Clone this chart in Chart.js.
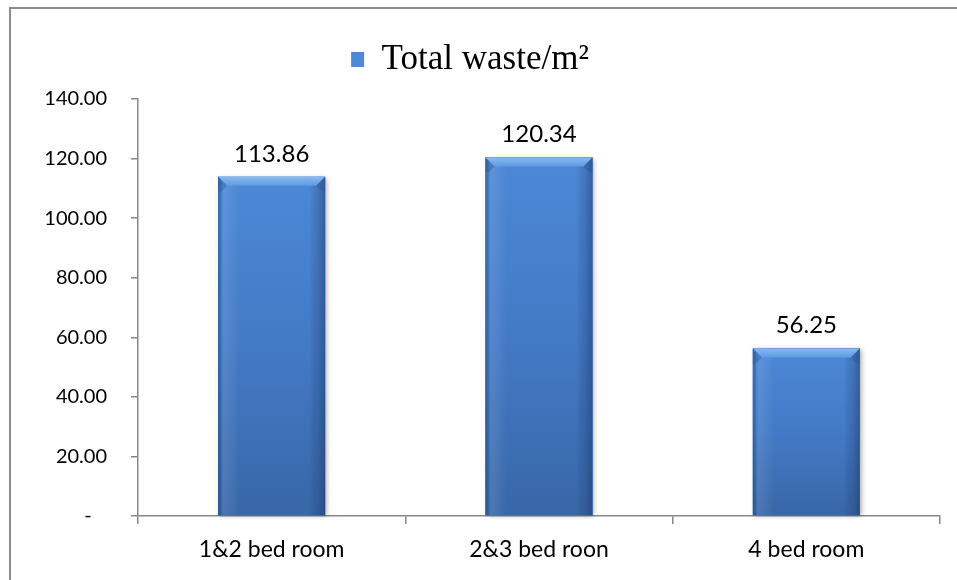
<!DOCTYPE html>
<html>
<head>
<meta charset="utf-8">
<script src="https://cdn.jsdelivr.net/npm/chart.js@4/dist/chart.umd.min.js"></script>
<style>
  html, body { margin: 0; padding: 0; background: #ffffff; }
  #wrap { position: relative; width: 957px; height: 580px; }
</style>
</head>
<body>
<div id="wrap"><canvas id="chart" width="957" height="580"></canvas></div>
<script>
// Waste per square metre by dwelling size
const categories = ['1&2 bed room', '2&3 bed roon', '4 bed room'];
const wastePerM2 = [113.86, 120.34, 56.25];
const seriesName = 'Total waste/m\u00B2';
const yTicks = [0, 20, 40, 60, 80, 100, 120, 140];

const BAR_BLUE = '#4f88d4';
const AXIS_GREY = '#878787';
const LEGEND_GAP = 12;

// Outer frame around the chart
const framePlugin = {
  id: 'frame',
  beforeDraw(chart) {
    const ctx = chart.ctx;
    ctx.save();
    ctx.strokeStyle = '#8e8e8e';
    ctx.lineWidth = 2;
    ctx.strokeRect(10, 8, chart.width + 20, chart.height + 20);
    ctx.restore();
  }
};

// Extra room between the legend and the plot area
const legendSpacer = {
  id: 'legendSpacer',
  beforeLayout(chart) {
    const lg = chart.legend;
    if (lg && !lg._spaced) {
      const fit = lg.fit;
      lg.fit = function () { fit.call(this); this.height += LEGEND_GAP; };
      lg._spaced = true;
    }
  }
};

// Bevelled, shaded bars plus value labels
const barStyle = {
  id: 'barStyle',
  beforeDatasetsDraw(chart) {
    const ctx = chart.ctx;
    const meta = chart.getDatasetMeta(0);
    ctx.save();
    meta.data.forEach(bar => {
      const w = bar.width, x0 = bar.x - w / 2;
      ctx.shadowColor = 'rgba(0,0,0,0.35)';
      ctx.shadowBlur = 5;
      ctx.shadowOffsetX = 2;
      ctx.shadowOffsetY = 1;
      ctx.fillStyle = '#3a68a8';
      ctx.fillRect(x0, bar.y, w, bar.base - bar.y);
    });
    ctx.restore();
  },
  afterDatasetsDraw(chart) {
    const ctx = chart.ctx;
    const meta = chart.getDatasetMeta(0);
    const values = chart.data.datasets[0].data;
    ctx.save();
    meta.data.forEach((bar, i) => {
      const w = bar.width;
      const x0 = bar.x - w / 2, x1 = bar.x + w / 2;
      const top = bar.y, bot = bar.base, h = bot - top;

      // body: lighter at the top, deeper toward the base
      const vg = ctx.createLinearGradient(0, top, 0, bot);
      vg.addColorStop(0, '#4c88d6');
      vg.addColorStop(0.5, '#437ac6');
      vg.addColorStop(1, '#3867a8');
      ctx.fillStyle = vg;
      ctx.fillRect(x0, top, w, h);

      // side shading
      const hg = ctx.createLinearGradient(x0, 0, x1, 0);
      hg.addColorStop(0, 'rgba(25,55,110,0.45)');
      hg.addColorStop(0.025, 'rgba(25,55,110,0.15)');
      hg.addColorStop(0.05, 'rgba(255,255,255,0.10)');
      hg.addColorStop(0.12, 'rgba(255,255,255,0.06)');
      hg.addColorStop(0.2, 'rgba(255,255,255,0)');
      hg.addColorStop(0.85, 'rgba(0,0,0,0)');
      hg.addColorStop(0.93, 'rgba(20,40,85,0.18)');
      hg.addColorStop(1, 'rgba(20,40,85,0.42)');
      ctx.fillStyle = hg;
      ctx.fillRect(x0, top, w, h);

      // top bevel
      const b = Math.min(9, h / 2);
      const tg = ctx.createLinearGradient(0, top, 0, top + b);
      tg.addColorStop(0, '#86bbf2');
      tg.addColorStop(1, '#5e99e2');
      ctx.fillStyle = tg;
      ctx.beginPath();
      ctx.moveTo(x0, top);
      ctx.lineTo(x1, top);
      ctx.lineTo(x1 - b, top + b);
      ctx.lineTo(x0 + b, top + b);
      ctx.closePath();
      ctx.fill();

      // side bevels near the top corners
      ctx.fillStyle = 'rgba(40,80,140,0.35)';
      ctx.beginPath();
      ctx.moveTo(x0, top);
      ctx.lineTo(x0 + b, top + b);
      ctx.lineTo(x0 + 3, top + b + 6);
      ctx.lineTo(x0, top + b + 6);
      ctx.closePath();
      ctx.fill();
      ctx.beginPath();
      ctx.moveTo(x1, top);
      ctx.lineTo(x1 - b, top + b);
      ctx.lineTo(x1 - 3, top + b + 6);
      ctx.lineTo(x1, top + b + 6);
      ctx.closePath();
      ctx.fill();

      // value label
      ctx.fillStyle = '#000000';
      ctx.font = '24px Lato';
      ctx.textAlign = 'center';
      ctx.textBaseline = 'middle';
      ctx.fillText(values[i].toFixed(2), bar.x, top - 23);
    });
    ctx.restore();
  }
};

new Chart(document.getElementById('chart'), {
  type: 'bar',
  data: {
    labels: categories,
    datasets: [{
      label: seriesName,
      data: wastePerM2,
      backgroundColor: BAR_BLUE,
      borderWidth: 0,
      barPercentage: 0.40,
      categoryPercentage: 1.0
    }]
  },
  options: {
    responsive: false,
    animation: false,
    layout: { padding: { top: 32, right: 17, bottom: 0, left: 0 } },
    plugins: {
      legend: {
        display: true,
        position: 'top',
        labels: {
          color: '#000000',
          font: { family: '"Liberation Serif", "DejaVu Serif", serif', size: 35 },
          boxWidth: 13,
          boxHeight: 15,
          padding: 10
        }
      },
      tooltip: { enabled: false }
    },
    scales: {
      x: {
        offset: true,
        grid: {
          offset: true,
          drawOnChartArea: false,
          drawTicks: true,
          tickLength: 8,
          color: AXIS_GREY,
          lineWidth: 1.5
        },
        border: { color: AXIS_GREY, width: 1.5 },
        ticks: {
          color: '#000000',
          font: { family: 'Lato', size: 23 },
          padding: 12,
          maxRotation: 0
        },
        afterFit(s) { s.height = 64; }
      },
      y: {
        min: yTicks[0],
        max: yTicks[yTicks.length - 1],
        afterBuildTicks(s) { s.ticks = yTicks.map(v => ({ value: v })); },
        grid: {
          drawOnChartArea: false,
          drawTicks: true,
          tickLength: 7,
          color: AXIS_GREY,
          lineWidth: 1.5
        },
        border: { color: AXIS_GREY, width: 1.5 },
        ticks: {
          color: '#000000',
          font: { family: 'Lato', size: 20 },
          padding: 24,
          callback: v => (v === 0 ? '-   ' : Number(v).toFixed(2))
        },
        afterFit(s) { s.width = 138; }
      }
    }
  },
  plugins: [framePlugin, legendSpacer, barStyle]
});
</script>
</body>
</html>
